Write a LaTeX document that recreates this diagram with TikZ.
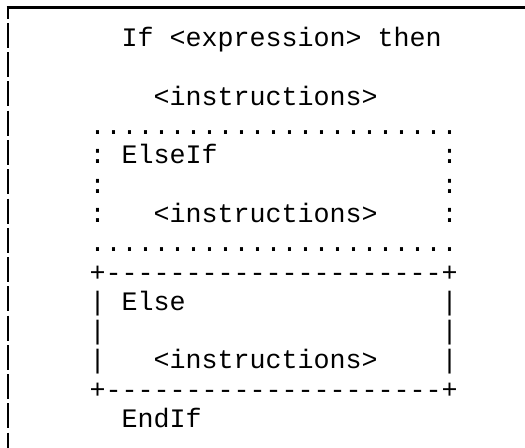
\documentclass[tikz,border=0pt]{standalone}
\usepackage{fontspec}
\setmonofont{Liberation Mono}
% n blank character cells of the monospaced font
\newcommand\gap[1]{\hspace*{#1\dimexpr0.6em\relax}}
% a character repeated n times
\ExplSyntaxOn
\cs_new:Npn \reptext #1#2 { \prg_replicate:nn {#1} {#2} }
\ExplSyntaxOff
\begin{document}
\begin{tikzpicture}[x=1bp,y=1bp,
  textline/.style={anchor=base west, inner sep=0pt, outer sep=0pt,
    font=\ttfamily\fontsize{26.67bp}{29.25bp}\selectfont},
  frame/.style={line width=2.7bp, draw=black}]
\useasboundingbox (0,0) rectangle (525,-448);
\fill[white] (0,0) rectangle (525,-448);

% page frame: solid top rule, broken left rule
\draw[frame] (6.7,-7.35) -- (525,-7.35);
\draw[frame, dash pattern=on 25bp off 4.25bp, dash phase=13.6bp] (8,-7.35) -- (8,-448);

% the text grid: column 0 at x = 89.5, one row every 29.25
\node[textline] (ifline)   at (89.5,-47)     {\gap{2}If <expression> then};
\node[textline] (instrA)   at (89.5,-105.5)  {\gap{4}<instructions>};
\node[textline] (dotsTop)  at (89.5,-134.75) {\reptext{23}{.}};
\node[textline] (elseif)   at (89.5,-164)    {:\gap{1}ElseIf\gap{14}:};
\node[textline] (colons)   at (89.5,-193.25) {:\gap{21}:};
\node[textline] (instrB)   at (89.5,-222.5)  {:\gap{3}<instructions>\gap{4}:};
\node[textline] (dotsBot)  at (89.5,-251.75) {\reptext{23}{.}};
\node[textline] (ruleTop)  at (89.5,-281)    {+\reptext{21}{-}+};
\node[textline] (elseline) at (89.5,-310.25) {|\gap{1}Else\gap{16}|};
\node[textline] (bars)     at (89.5,-339.5)  {|\gap{21}|};
\node[textline] (instrC)   at (89.5,-368.75) {|\gap{3}<instructions>\gap{4}|};
\node[textline] (ruleBot)  at (89.5,-398)    {+\reptext{21}{-}+};
\node[textline] (endif)    at (89.5,-427.25) {\gap{2}EndIf};
\end{tikzpicture}
\end{document}
